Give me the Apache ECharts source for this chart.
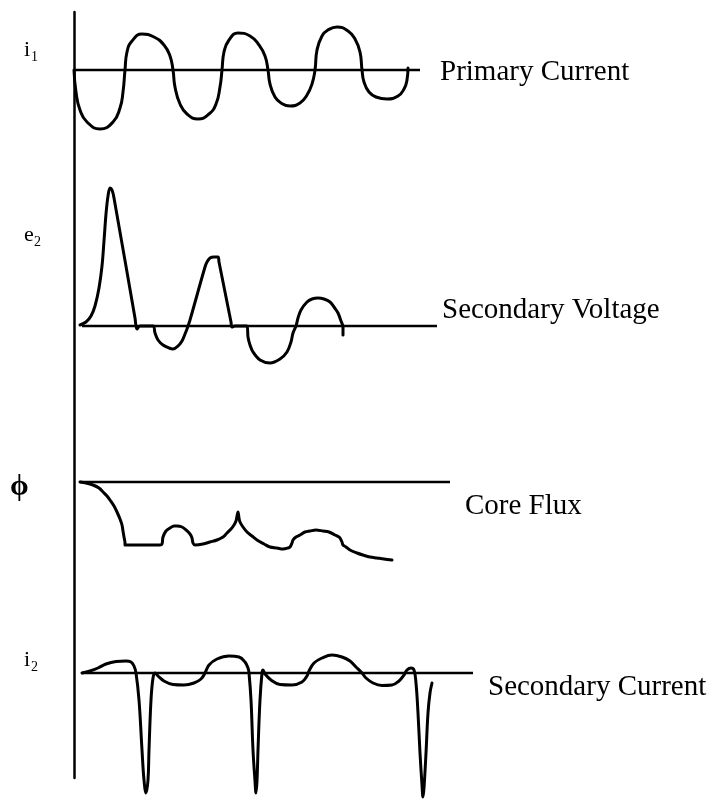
<!DOCTYPE html>
<html>
<head>
<meta charset="utf-8">
<script src="https://cdn.jsdelivr.net/npm/echarts@6/dist/echarts.min.js"></script>
<style>
html,body{margin:0;padding:0;background:#fff;}
#chart{width:710px;height:799px;}
</style>
</head>
<body>
<div id="chart"></div>
<script>
// ---- data (time units along x, amplitude units with baseline at 0) ----
const primaryCurrent = [[0,0],[2,-22],[6,-40],[13,-52],[26,-59],[39,-52],[46,-38],[49,-22],[51,0],[53,18],[58,29],[68,36],[80,33],[90,25],[96,14],[99,0],[101,-17],[106,-34],[113,-44],[124,-49],[135,-44],[142,-34],[146,-17],[148,0],[150,18],[155,30],[164,37],[176,34],[185,25],[191,14],[194,0],[196,-14],[201,-27],[207,-33],[216,-36],[226,-33],[233,-25],[238,-14],[241,0],[243,20],[248,34],[254,40],[263,43],[274,39],[281,31],[286,18],[288,0],[290,-12],[295,-22],[302,-27],[313,-29],[324,-26],[330,-19],[333,-10],[334,2]];
const secondaryVoltage = [[6,1],[12,4],[17,10],[21,20],[25,38],[28,60],[30,85],[32,112],[34,130],[36,138],[38,136],[40,128],[61,8],[63,-3],[66,0],[79,0],[81,-7],[84,-14],[89,-19],[95,-22],[99,-23],[104,-20],[108,-15],[111,-8],[113,-3],[114,0],[116,6],[131,59],[133,64],[136,68],[140,69],[144,69],[145,64],[157,4],[158,-1],[161,0],[173,0],[174,-11],[176,-19],[179,-26],[186,-34],[196,-37],[206,-33],[213,-26],[217,-16],[219,-7],[222,0],[224,8],[227,16],[233,24],[238,27],[244,28],[250,27],[256,24],[260,19],[264,13],[267,5],[269,-1],[269,-9]];
const coreFlux = [[6,0],[12,-1],[19,-3],[25,-6],[29,-10],[33,-14],[36,-18],[40,-24],[43,-30],[46,-37],[48,-43],[49,-49],[50,-55],[51,-61],[51,-63],[53,-63],[86,-63],[88,-62],[89,-55],[92,-49],[96,-46],[100,-44],[103,-44],[108,-45],[112,-48],[116,-52],[118,-56],[119,-61],[121,-63],[129,-62],[136,-60],[143,-58],[149,-55],[153,-51],[157,-47],[160,-43],[162,-39],[163,-34],[164,-30],[165,-36],[166,-40],[169,-45],[173,-50],[178,-54],[183,-58],[190,-62],[196,-65],[203,-66],[209,-67],[214,-66],[216,-65],[218,-61],[219,-58],[222,-55],[226,-53],[231,-50],[236,-49],[242,-48],[249,-49],[255,-50],[261,-53],[265,-55],[266,-56],[268,-60],[269,-63],[272,-65],[276,-68],[283,-71],[289,-73],[296,-75],[303,-76],[310,-77],[318,-78]];
const secondaryCurrent = [[8,0],[16,2],[24,5],[32,9],[42,11.5],[52,12],[57,11],[60,7],[62,0],[65,-27],[68,-77],[70,-107],[72,-120],[74,-107],[75,-77],[77,-27],[79,-5],[81,0],[84,-3],[90,-8],[99,-11.5],[110,-12],[120,-10],[127,-6],[131,0],[135,8],[143,14],[155,17],[165,16],[171,11],[174,5],[175,0],[177,-27],[179,-77],[181,-108],[182,-120],[183,-108],[184,-77],[186,-27],[188,0],[189,3],[191,-1],[197,-7],[206,-11.5],[218,-12],[228,-9],[233,-3],[235,2],[240,10],[248,15],[258,18],[268,16],[276,12],[282,6],[288,0],[292,-5],[299,-10],[308,-12.5],[318,-12],[325,-8],[330,-2],[333,3],[337,5],[340,3],[342,-10],[344,-40],[346,-80],[348,-112],[349,-124],[350,-115],[352,-80],[354,-40],[356,-20],[358,-10]];

const primaryBaseline = [[0,0],[346,0]];
const voltageBaseline = [[8,0],[363,0]];
const fluxBaseline = [[6,0],[376,0]];
const currentBaseline = [[8,0],[399,0]];

const seriesLabels = ['Primary Current','Secondary Voltage','Core Flux','Secondary Current'];
const axisSymbols = [['i','1'],['e','2'],['\u03d5',''],['i','2']];

// ---- chart ----
const chart = echarts.init(document.getElementById('chart'), null, {renderer:'canvas'});

const grids = [
  {left:74, width:400, top:10,  height:120, ymin:-60,  ymax:60},
  {left:74, width:400, top:176, height:200, ymin:-50,  ymax:150},
  {left:74, width:400, top:472, height:100, ymin:-90,  ymax:10},
  {left:74, width:400, top:643, height:160, ymin:-130, ymax:30},
  {left:74, width:400, top:12,  height:766, ymin:0,    ymax:1}
];

const gridOpt = grids.map(g => ({left:g.left, width:g.width, top:g.top, height:g.height, containLabel:false, outerBoundsMode:'none', show:false}));
const xAxes = grids.map((g,i) => ({type:'value', gridIndex:i, min:0, max:400, show:false}));
const yAxes = grids.map((g,i) => ({
  type:'value', gridIndex:i, min:g.ymin, max:g.ymax,
  show: i === 4,
  axisLine:{show: i === 4, lineStyle:{color:'#000', width:2.5}},
  axisTick:{show:false}, axisLabel:{show:false}, splitLine:{show:false}
}));

const curveStyle = {color:'#000', width:3, cap:'round', join:'round'};
const baseStyle = {color:'#000', width:2.5};
function curve(data, idx, s){
  return {type:'line', xAxisIndex:idx, yAxisIndex:idx, data:data, smooth:s, symbol:'none', silent:true, lineStyle:curveStyle, z:3};
}
function base(data, idx){
  return {type:'line', xAxisIndex:idx, yAxisIndex:idx, data:data, smooth:false, symbol:'none', silent:true, lineStyle:baseStyle, z:2};
}

const labelFont = '29px "Liberation Serif", "Times New Roman", serif';
const labelPos = [[440,72],[442,310],[465,506],[488,687]];
const symPos = [[24,50],[24,235],[10,487],[24,660]];

const graphic = [];
seriesLabels.forEach((t,i) => {
  graphic.push({type:'text', x:labelPos[i][0], y:labelPos[i][1], silent:true,
    style:{text:t, font:labelFont, fill:'#000', align:'left', verticalAlign:'middle'}});
});
axisSymbols.forEach((s,i) => {
  const fnt = i === 2 ? 'bold 30px "Liberation Serif", serif' : '22px "Liberation Serif", serif';
  graphic.push({type:'text', x:symPos[i][0], y:symPos[i][1], silent:true,
    style:{text:s[0], font: fnt, fill:'#000', align:'left', verticalAlign:'middle'}});
  if (s[1]) {
    graphic.push({type:'text', x:symPos[i][0] + (s[0]==='e'?10:7), y:symPos[i][1] + 7, silent:true,
      style:{text:s[1], font:'14px "Liberation Serif", serif', fill:'#000', align:'left', verticalAlign:'middle'}});
  }
});

chart.setOption({
  animation:false,
  backgroundColor:'#fff',
  grid: gridOpt,
  xAxis: xAxes,
  yAxis: yAxes,
  series: [
    base(primaryBaseline,0), curve(primaryCurrent,0,0.5),
    base(voltageBaseline,1), curve(secondaryVoltage,1,0.35),
    base(fluxBaseline,2), curve(coreFlux,2,0.35),
    base(currentBaseline,3), curve(secondaryCurrent,3,0.4)
  ],
  graphic: graphic
});
</script>
</body>
</html>
